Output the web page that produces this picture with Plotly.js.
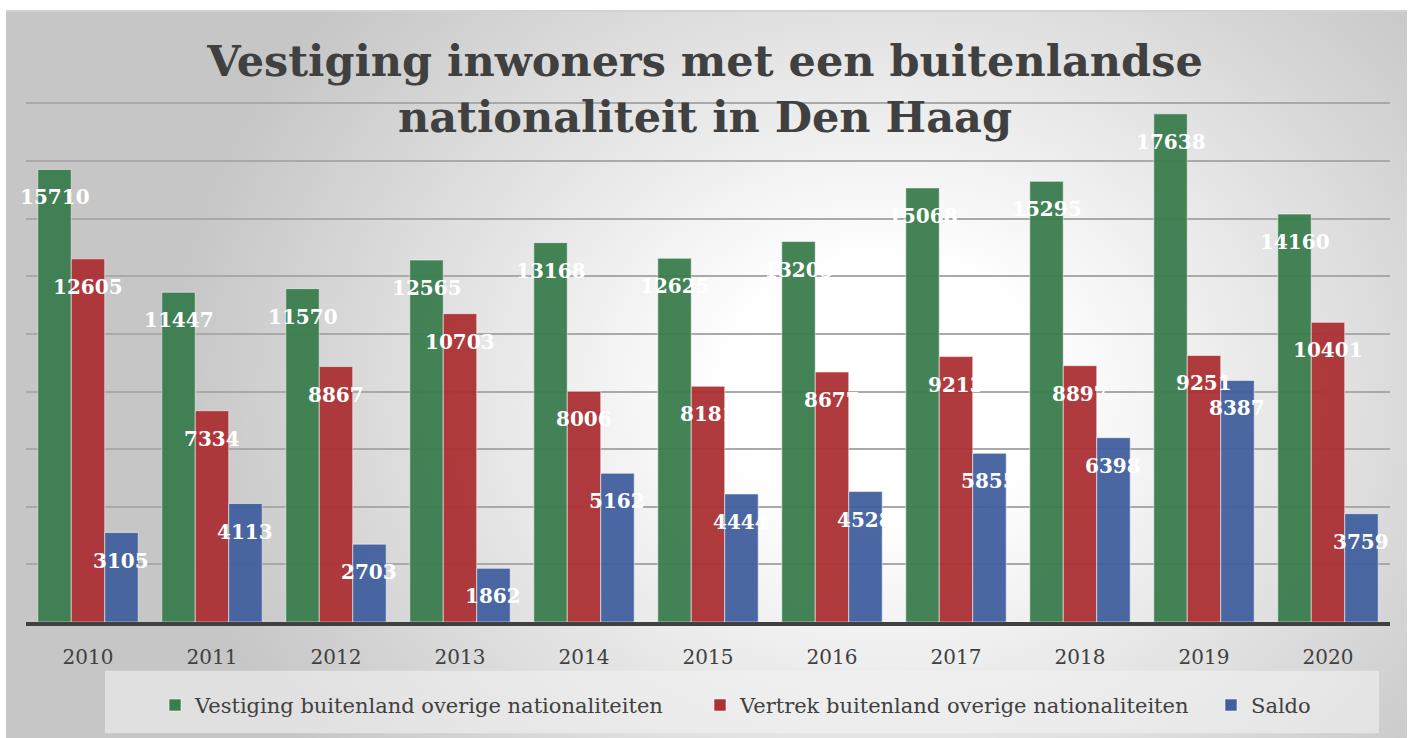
<!DOCTYPE html>
<html>
<head>
<meta charset="utf-8">
<script src="https://cdn.plot.ly/plotly-3.0.1.min.js"></script>
<style>
  html, body { margin: 0; padding: 0; background: #ffffff; }
  #frame {
    position: absolute; left: 6px; top: 10px; width: 1401px; height: 728px;
    background: radial-gradient(ellipse 720px 600px at 880px 380px, #ffffff 22%, #c6c6c6 100%);
    border-top: 2px solid #d2d2d2;
    box-sizing: border-box;
  }
  #chart { position: absolute; left: 0; top: 0; width: 1410px; height: 738px; }
</style>
</head>
<body>
<div id="frame"></div>
<div id="chart"></div>
<script>
const years = ['2010','2011','2012','2013','2014','2015','2016','2017','2018','2019','2020'];
const vestiging = [15710, 11447, 11570, 12565, 13168, 12625, 13205, 15068, 15295, 17638, 14160];
const vertrek   = [12605,  7334,  8867, 10703,  8006,  8181,  8677,  9213,  8897,  9251, 10401];
const saldo     = [ 3105,  4113,  2703,  1862,  5162,  4444,  4528,  5855,  6398,  8387,  3759];
const seriesNames = ['Vestiging buitenland overige nationaliteiten', 'Vertrek buitenland overige nationaliteiten', 'Saldo'];
const seriesColors = ['#3a7d4e', '#ac3134', '#42609f'];
const seriesLegends = ['legend', 'legend', 'legend2'];

const W = 1410, H = 738;
const margin = {l: 26, r: 20, t: 102, b: 112};
const bargap = 0.19;
const series = [vestiging, vertrek, saldo];

const traces = series.map((vals, s) => ({
  type: 'bar',
  name: seriesNames[s],
  legend: seriesLegends[s],
  x: years,
  y: vals,
  marker: {color: seriesColors[s], opacity: 0.95, line: {color: 'rgba(255,255,255,0.55)', width: 1}},
  hoverinfo: 'x+y'
}));

const plotW = W - margin.l - margin.r;
const plotH = H - margin.t - margin.b;
const catW = plotW / years.length;
const barPx = catW * (1 - bargap) / series.length;

const annotations = [];
series.forEach((vals, s) => {
  vals.forEach((v, i) => {
    annotations.push({
      x: i, y: v, xref: 'x', yref: 'y',
      xshift: (s - 1) * barPx, yshift: -28,
      text: String(v), showarrow: false,
      xanchor: 'center', yanchor: 'middle',
      font: {family: 'DejaVu Serif', size: 20, color: '#ffffff', weight: 'bold'}
    });
  });
});

const legendFont = {family: 'DejaVu Serif', size: 21, color: '#404040'};
const legendY = -(710 - 626) / plotH;

const layout = {
  width: W, height: H,
  margin: margin,
  paper_bgcolor: 'rgba(0,0,0,0)',
  plot_bgcolor: 'rgba(0,0,0,0)',
  barmode: 'group',
  bargap: bargap,
  bargroupgap: 0,
  title: {
    text: 'Vestiging inwoners met een buitenlandse<br>nationaliteit in Den Haag',
    x: 0.5, xanchor: 'center',
    y: 1 - 76 / H, yanchor: 'top', yref: 'container',
    font: {family: 'DejaVu Serif', size: 43, color: '#404040', weight: 'bold'}
  },
  xaxis: {
    type: 'category',
    range: [-0.5, years.length - 0.5],
    showgrid: false,
    showline: true, linecolor: '#404040', linewidth: 4,
    ticks: '', ticklabelstandoff: 14,
    tickfont: {family: 'DejaVu Serif', size: 20, color: '#404040'},
    zeroline: false
  },
  yaxis: {
    range: [0, 18050],
    tick0: 0,
    dtick: 2000,
    showticklabels: false,
    showgrid: true, gridcolor: '#a9a9a9', gridwidth: 2,
    zeroline: false, showline: false
  },
  showlegend: true,
  legend: {
    orientation: 'h',
    x: (155 - margin.l) / plotW, xanchor: 'left',
    y: legendY, yanchor: 'middle',
    entrywidth: 500, entrywidthmode: 'pixels',
    bgcolor: 'rgba(0,0,0,0)',
    font: legendFont,
    itemclick: false
  },
  legend2: {
    orientation: 'h',
    x: (1211 - margin.l) / plotW, xanchor: 'left',
    y: legendY, yanchor: 'middle',
    bgcolor: 'rgba(0,0,0,0)',
    font: legendFont,
    itemclick: false
  },
  shapes: [{
    type: 'rect', xref: 'paper', yref: 'paper',
    x0: (105 - margin.l) / plotW, x1: (1379 - margin.l) / plotW,
    y0: -(738 - 626) / plotH, y1: -(675 - 626) / plotH,
    fillcolor: 'rgba(242,242,242,0.6)', line: {width: 0}, layer: 'below'
  }],
  annotations: annotations
};

Plotly.newPlot('chart', traces, layout, {displayModeBar: false, staticPlot: true});
</script>
</body>
</html>
